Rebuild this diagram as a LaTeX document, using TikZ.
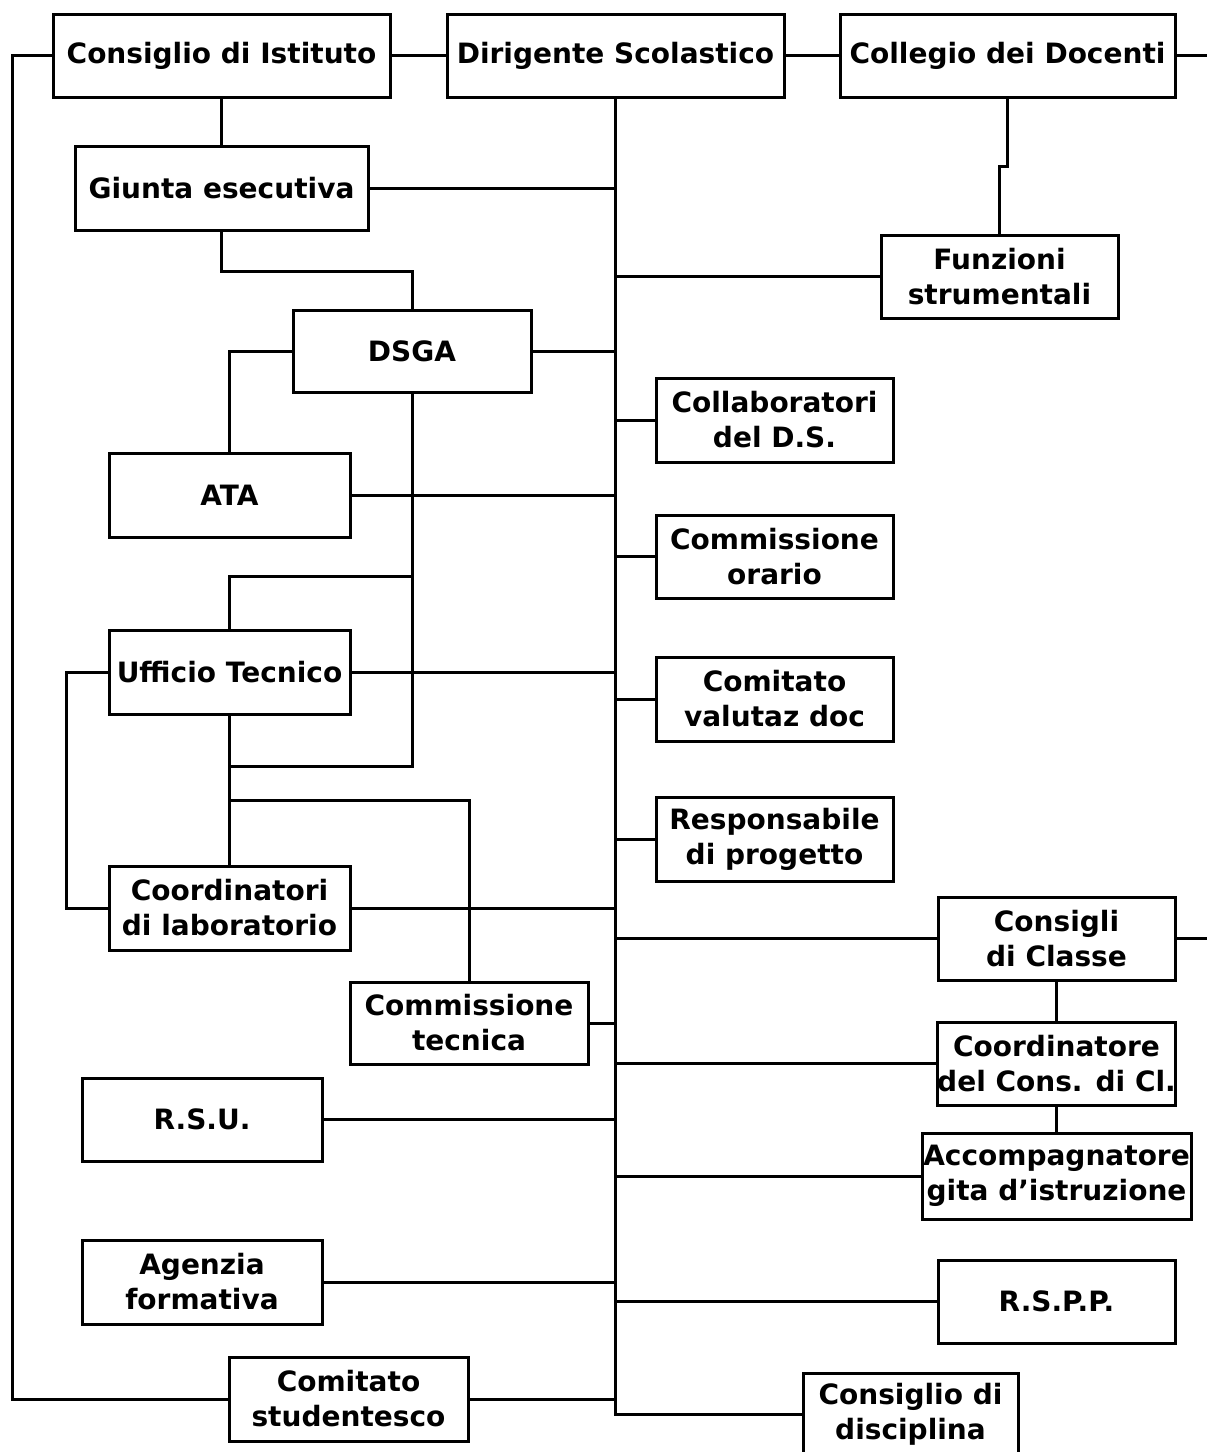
\documentclass[tikz,border=0pt]{standalone}
\usepackage{fontspec}
\setmainfont{DejaVu Sans}
\begin{document}
\begin{tikzpicture}[x=1pt,y=-1pt,
  box/.style={draw,line width=3pt,align=center,inner sep=0pt,
    font=\fontsize{28}{35}\selectfont\bfseries},
  conn/.style={line width=3pt}]
\useasboundingbox (0,0) rectangle (1207,1452);
\newcommand\bx[6]{\node[box,minimum width={#4-#2},minimum height={#5-#3}] (#1) at ({(#2+#4)/2},{(#3+#5)/2}) {#6};}
% top row
\bx{ci}{53}{14}{390}{97}{Consiglio di Istituto}
\bx{ds}{447}{14}{784}{97}{Dirigente Scolastico}
\bx{cd}{840}{14}{1175}{97}{Collegio dei Docenti}
% left column
\bx{ge}{75}{146}{368}{230}{Giunta esecutiva}
\bx{dsga}{293}{310}{531}{392}{DSGA}
\bx{ata}{109}{453}{350}{537}{ATA}
\bx{ut}{109}{630}{350}{714}{Ufficio Tecnico}
\bx{cl}{109}{866}{350}{950}{Coordinatori\\di laboratorio}
\bx{ct}{350}{982}{588}{1064}{Commissione\\tecnica}
\bx{rsu}{82}{1078}{322}{1161}{R.S.U.}
\bx{af}{82}{1240}{322}{1324}{Agenzia\\formativa}
\bx{cs}{229}{1357}{468}{1441}{Comitato\\studentesco}
% right column
\bx{fs}{881}{235}{1118}{318}{Funzioni\\strumentali}
\bx{col}{656}{378}{893}{462}{Collaboratori\\del  D.S.}
\bx{co}{656}{515}{893}{598}{Commissione\\orario}
\bx{cv}{656}{657}{893}{741}{Comitato\\valutaz doc}
\bx{rp}{656}{797}{893}{881}{Responsabile\\di progetto}
\bx{cc}{938}{897}{1175}{980}{Consigli\\di Classe}
\bx{cor}{938}{1022}{1175}{1105}{Coordinatore\\del Cons. di Cl.}
\bx{acc}{922}{1133}{1191}{1219}{Accompagnatore\\gita d’istruzione}
\bx{rspp}{938}{1260}{1175}{1343}{R.S.P.P.}
\bx{dis}{803}{1373}{1018}{1456}{Consiglio di\\disciplina}
\coordinate (re) at (1207,0);
% connectors
\draw[conn] (ci.east) -- (ds.west);
\draw[conn] (ds.east) -- (cd.west);
\draw[conn] (cd.east) -- (cd.east -| re);
\draw[conn] (cc.east) -- (cc.east -| re);
\draw[conn] (ci.west) -- ++(-39,0) |- (cs.west);
\draw[conn] (ds.south) |- (dis.west);
\draw[conn] (ci.south) -- (ge.north);
\draw[conn] (ge.south) -- ++(0,40) -| (dsga.north);
\draw[conn] (dsga.west) -| (ata.north);
\draw[conn] (dsga.south) |- (ut.south |- 0,766);
\draw[conn] (dsga.south |- 0,576) -| (ut.north);
\draw[conn] (ut.south) -- (cl.north);
\draw[conn] (ut.west) -- ++(-41,0) |- (cl.west);
\draw[conn] (ut.south |- 0,800) -| (ct.north);
\draw[conn] (cd.south) -- (cd.south |- 0,166) -| (fs.north);
\draw[conn] (cc.south) -- (cor.north);
\draw[conn] (cor.south) -- (acc.north);
% branches to the main vertical
\foreach \n in {ge,dsga,ata,ut,cl,ct,rsu,af,cs}
  \draw[conn] (\n.east) -- (\n.east -| ds.south);
\foreach \n in {fs,col,co,cv,rp,cc,cor,acc,rspp}
  \draw[conn] (ds.south |- \n.west) -- (\n.west);
\end{tikzpicture}
\end{document}
